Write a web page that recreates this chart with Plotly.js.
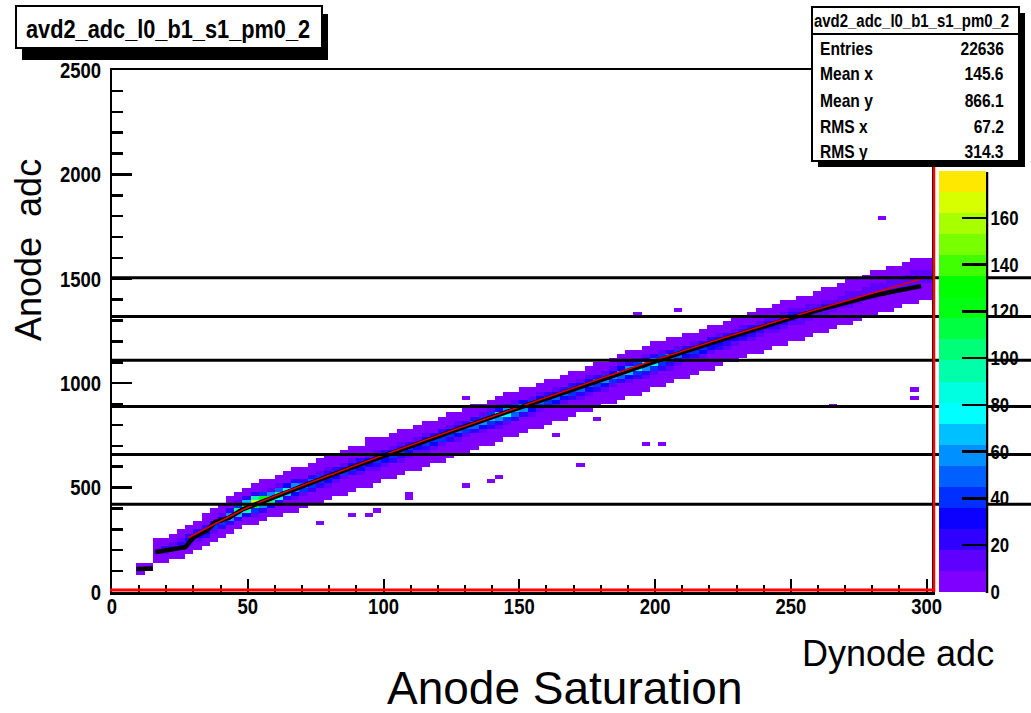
<!DOCTYPE html>
<html>
<head>
<meta charset="utf-8">
<script src="https://cdn.plot.ly/plotly-3.0.1.min.js"></script>
<style>html,body{margin:0;padding:0;background:#fff;}#chart{width:1031px;height:713px;}</style>
</head>
<body>
<div id="chart"></div>
<script>
// ---------------- data ----------------
const histTitle = "avd2_adc_l0_b1_s1_pm0_2";
const xTitle = "Dynode adc";
const yTitle = "Anode\u00a0 adc";
const mainTitle = "Anode Saturation";
const statLabels = ["Entries", "Mean x", "Mean y", "RMS x", "RMS y"];
const statValues = ["22636", "145.6", "866.1", "67.2", "314.3"];

const xBin = 3, yBin = 20;            // histogram bin widths
const xRange = [0, 302], yRange = [0, 2500];
const zMax = 180;
const cbTicks = [0, 20, 40, 60, 80, 100, 120, 140, 160];
const xTicks = [0, 50, 100, 150, 200, 250, 300];
const yTicks = [0, 500, 1000, 1500, 2000, 2500];

// band of the 2D histogram: per column: x centre, lower edge of first y bin, counts (bottom -> top)
const colX = [10.5,13.5,16.5,19.5,22.5,25.5,28.5,31.5,34.5,37.5,40.5,43.5,46.5,49.5,52.5,55.5,58.5,61.5,64.5,67.5,
  70.5,73.5,76.5,79.5,82.5,85.5,88.5,91.5,94.5,97.5,100.5,103.5,106.5,109.5,112.5,115.5,118.5,121.5,124.5,127.5,
  130.5,133.5,136.5,139.5,142.5,145.5,148.5,151.5,154.5,157.5,160.5,163.5,166.5,169.5,172.5,175.5,178.5,181.5,184.5,187.5,
  190.5,193.5,196.5,199.5,202.5,205.5,208.5,211.5,214.5,217.5,220.5,223.5,226.5,229.5,232.5,235.5,238.5,241.5,244.5,247.5,
  250.5,253.5,256.5,259.5,262.5,265.5,268.5,271.5,274.5,277.5,280.5,283.5,286.5,289.5,292.5,295.5,298.5,301.5];
const colY0 = [80,100,140,140,160,160,180,200,220,240,260,280,300,320,320,340,360,360,380,380,
  400,420,420,440,460,460,480,500,500,520,540,540,560,580,580,600,620,620,640,660,
  660,680,700,700,720,740,740,760,780,780,800,820,820,840,860,860,880,900,900,920,
  940,940,960,980,980,1000,1020,1020,1040,1060,1060,1080,1100,1100,1120,1140,1140,1160,1180,1180,
  1200,1200,1220,1240,1240,1260,1280,1280,1300,1320,1320,1340,1340,1360,1380,1380,1400,1400];
const colCounts = [
  [4,9,3],[2,3],[1,5,14,6,2,1],[1,3,16,20,7,2],[2,8,24,15,3,1],[1,3,12,26,14,4,1],[1,2,10,28,22,6,2],[1,4,14,30,18,5,2],[2,5,18,32,20,6,2,1],[1,4,16,36,28,8,3,1],
  [2,6,22,44,34,10,3,1],[1,5,20,55,60,24,6,2,1],[2,6,24,70,95,40,10,3,1],[2,8,30,90,140,70,18,4,2],[1,3,12,40,120,170,90,22,5,2],[1,4,18,60,150,130,40,8,2,1],[2,6,28,90,125,60,14,3,1],[1,3,5,22,75,100,45,10,4,2],[1,2,6,24,70,78,30,8,3,1],[1,3,3,10,30,60,55,20,5,3,1],
  [2,3,4,14,40,52,26,8,3,1],[1,3,5,18,44,46,20,6,3,2],[1,2,2,8,22,42,36,14,4,3,1],[2,3,3,10,30,40,26,9,3,2,1],[1,3,4,12,34,38,20,7,3,2],[1,2,2,6,16,36,34,16,5,3,1],[2,3,3,8,22,38,28,12,4,2,1],[1,3,4,12,30,36,20,8,3,2],[1,2,2,6,16,34,32,15,5,2,2,1],[2,3,3,9,24,38,26,10,3,3,1],
  [1,3,5,14,32,34,18,6,3,2],[1,2,2,7,18,36,30,14,4,3,1],[2,3,3,10,24,38,24,9,3,2,1],[1,3,4,13,30,36,18,6,3,2],[1,2,2,6,16,34,34,15,5,3,1],[2,3,3,9,22,40,28,10,3,2,1],[1,3,4,12,30,40,22,8,3,2],[1,2,2,6,16,36,38,18,6,3,2],[2,3,3,8,22,42,34,14,4,2,1],[1,3,4,12,30,46,26,9,3,2],
  [1,2,2,6,16,38,50,22,7,3,1],[2,3,3,8,24,52,48,18,5,3,1],[1,3,4,12,34,60,40,14,4,2],[1,2,2,6,18,44,68,36,12,3,2],[2,3,3,9,26,58,72,30,9,3,1],[1,3,4,14,36,74,56,20,6,3,1],[1,2,2,6,18,46,70,42,14,4,2],[2,3,3,8,26,56,62,28,8,3,1],[1,3,4,12,32,58,44,16,5,2],[1,2,2,6,16,38,50,30,10,3,2],
  [2,3,3,8,22,44,42,18,6,3,1],[1,3,4,11,28,46,34,12,4,2],[1,2,2,5,14,32,46,26,8,3,2],[2,3,3,7,20,40,44,18,6,3,1],[1,3,4,10,26,46,34,12,4,2],[1,2,2,5,14,32,48,28,9,3,2],[2,3,3,7,20,42,50,22,7,3,1],[1,3,4,10,28,54,42,16,5,2],[1,2,2,5,15,36,58,34,11,3,2],[2,3,3,8,22,50,64,28,9,3,1],
  [1,3,4,12,32,68,54,20,6,3,1],[1,2,2,6,18,44,76,42,14,4,2],[2,3,3,9,26,62,80,34,10,3,1],[1,3,4,13,36,78,60,22,7,3,1],[1,2,2,6,18,44,74,40,13,4,2],[2,3,3,9,26,58,62,26,8,3,1],[1,3,4,12,32,50,38,14,4,2],[1,2,2,6,16,34,42,22,7,3,2],[2,3,3,8,22,38,34,14,4,2],[1,3,4,11,28,36,22,8,3,2],
  [1,2,2,5,14,30,34,18,6,3,2],[2,3,3,7,20,34,30,12,4,2],[1,3,4,10,26,32,20,7,3,2],[1,2,2,5,13,28,30,16,5,3,2],[2,3,3,7,18,30,26,11,4,2],[1,3,4,10,22,28,18,7,3,2],[1,2,2,5,12,24,26,14,5,3,2],[2,3,3,7,16,26,22,10,3,2],[1,3,4,9,20,24,16,6,3,2],[1,2,2,5,11,20,22,12,4,3,2],
  [2,3,3,6,14,22,18,9,3,2],[1,2,2,4,9,16,20,14,6,3,2],[2,3,3,6,12,20,17,9,3,2],[1,3,4,8,15,19,12,6,3,2],[1,2,2,5,10,16,18,10,4,3,2],[2,3,3,6,13,18,15,7,3,2],[1,3,4,8,15,16,10,5,3,2],[1,2,2,5,10,15,16,9,4,3,2],[2,3,3,6,12,16,13,7,3,2],[1,3,4,8,14,15,10,5,3,2],
  [1,2,2,5,10,14,15,9,4,3,2],[2,3,3,6,11,15,12,6,3,2],[1,2,2,4,8,12,14,11,5,3,2],[2,3,3,5,10,14,13,7,3,2],[1,3,4,7,12,14,10,5,3,2],[1,2,2,5,9,13,14,9,4,3,2],[2,3,3,6,11,14,12,6,3,2],[1,2,2,5,9,13,13,8,4,3]
];
// isolated cells away from the band
const outX = [282.7,295,295,266.5,207.5,192,173,164,179.5,197.6,201,129,138.6,129,142,69,110.6,129,98,89,93,75.5,195,140,110,236,226.7];
const outY = [1791,975,935,896,1340,1336,618,747,833,718,709,929,704,666,546,599,455,503,397,378,364,330,967,536,470,1159,1125];
const outN = [2,2,2,2,2,2,3,2,2,2,2,3,2,2,2,2,2,2,2,2,2,2,2,2,2,2,2];

// fitted curve (red) and profile (black)
const fitX = [28,40,50,60,70,85,100,125,150,175,200,225,250,275,298];
const fitY = [259,340,405,460,510,583,656,772,886,1000,1111,1216,1317,1412,1499];
const profX = [9,15,null,16,21,27,30,35,38,43,48,55,62,70,80,90,100,110,120,130,140,150,160,170,180,190,200,210,220,230,240,250,260,270,280,290,298];
const profY = [110,112,null,192,200,215,262,295,335,355,395,430,470,508,556,604,652,700,746,792,838,883,927,972,1015,1058,1105,1148,1190,1232,1274,1312,1350,1385,1418,1445,1465];
// horizontal reference lines
const hLines = [420,658,888,1110,1320,1505];

// colour palette (ROOT rainbow, 20 contours)
const palette = ['#7f00ff','#5f00ff','#3000ff','#0c00ff','#0030ff','#0060ff','#0090ff','#00c0ff','#00ffff','#00ffe0',
  '#00ffa8','#00ff78','#00ff40','#00ff10','#00ff00','#40ff00','#78ff00','#a8ff00','#d8ff00','#ffe800'];

// ---------------- build grid ----------------
const nx = Math.ceil(xRange[1] / xBin) + 1, ny = Math.ceil(yRange[1] / yBin);
const xC = [], yC = [];
for (let i = 0; i < nx; i++) xC.push(i * xBin + xBin / 2);
for (let j = 0; j < ny; j++) yC.push(j * yBin + yBin / 2);
const z = [];
for (let j = 0; j < ny; j++) z.push(new Array(nx).fill(null));
colX.forEach((x, c) => {
  const i = Math.floor(x / xBin);
  colCounts[c].forEach((n, k) => {
    const j = Math.round((colY0[c] + k * yBin) / yBin);
    if (j >= 0 && j < ny) z[j][i] = (z[j][i] || 0) + n;
  });
});
outX.forEach((x, k) => {
  const i = Math.floor(x / xBin), j = Math.floor(outY[k] / yBin);
  z[j][i] = (z[j][i] || 0) + outN[k];
});
const cs = [];
palette.forEach((c, k) => { cs.push([k / palette.length, c]); cs.push([(k + 1) / palette.length, c]); });

// ---------------- geometry helpers (pixel -> paper) ----------------
const W = 1031, H = 713, L = 112, R = 932, T = 70, B = 592;
const px = v => (v - L) / (R - L);
const py = v => (B - v) / (B - T);
const rootFont = "Liberation Sans, Arial, sans-serif";

const heat = {
  type: 'heatmap', x: xC, y: yC, z: z, zmin: 0, zmax: zMax, colorscale: cs, hoverinfo: 'skip',
  colorbar: {
    thickness: 47, thicknessmode: 'pixels', len: (zMax * 2.34), lenmode: 'pixels',
    x: px(939), xanchor: 'left', xpad: 0, y: 0, yanchor: 'bottom', ypad: 0,
    outlinewidth: 0, ticks: 'inside', ticklen: 24, tickwidth: 2.5, tickcolor: '#000',
    tickvals: cbTicks, ticktext: cbTicks.map(String),
    tickfont: {family: rootFont, size: 20, color: '#000', weight: 'bold'}
  }
};
const prof = {type: 'scatter', mode: 'lines', x: profX, y: profY, line: {color: '#000', width: 4.5}, hoverinfo: 'skip', connectgaps: false};
const fit = {type: 'scatter', mode: 'lines', x: fitX, y: fitY, line: {color: '#e00000', width: 1.6, shape: 'spline'}, hoverinfo: 'skip'};

const shapes = [];
hLines.forEach(v => shapes.push({type: 'line', xref: 'paper', yref: 'paper', x0: px(110), x1: px(W + 5), y0: v / yRange[1], y1: v / yRange[1], line: {color: '#000', width: 3}}));
shapes.push({type: 'line', xref: 'paper', yref: 'paper', x0: px(110), x1: px(934), y0: py(590), y1: py(590), line: {color: '#ff0000', width: 3}});
shapes.push({type: 'line', xref: 'paper', yref: 'paper', x0: px(934), x1: px(934), y0: py(592), y1: py(70), line: {color: '#ff0000', width: 2.5}});
shapes.push({type: 'line', xref: 'paper', yref: 'paper', x0: px(987), x1: px(987), y0: py(593), y1: py(172), line: {color: '#000', width: 2.5}});
// title box with shadow
shapes.push({type: 'rect', xref: 'paper', yref: 'paper', x0: px(22), x1: px(328), y0: py(14), y1: py(60), fillcolor: '#000', line: {width: 0}});
shapes.push({type: 'rect', xref: 'paper', yref: 'paper', x0: px(16), x1: px(322), y0: py(6), y1: py(48), fillcolor: '#fff', line: {color: '#000', width: 2}});
// stats box with shadow
shapes.push({type: 'rect', xref: 'paper', yref: 'paper', x0: px(818), x1: px(1025), y0: py(13), y1: py(167), fillcolor: '#000', line: {width: 0}});
shapes.push({type: 'rect', xref: 'paper', yref: 'paper', x0: px(812), x1: px(1019), y0: py(7), y1: py(161), fillcolor: '#fff', line: {color: '#000', width: 2}});
shapes.push({type: 'line', xref: 'paper', yref: 'paper', x0: px(812), x1: px(1019), y0: py(34), y1: py(34), line: {color: '#000', width: 2}});

// annotations; the first ones use the narrow ROOT-like style (squeeze factor, alignment)
const ann = [], squeeze = [];
function rootText(text, x, y, anchor, size, f) {
  ann.push({xref: 'paper', yref: 'paper', x: px(x), y: py(y), xanchor: anchor, yanchor: 'middle', showarrow: false, text: text,
    font: {family: rootFont, size: size, color: '#000', weight: 'bold'}});
  squeeze.push([f, anchor]);
}
rootText(histTitle, 24, 29, 'left', 25, 0.87);
rootText(histTitle, 1011, 21, 'right', 18, 0.83);
const rowY = [48, 74, 100, 126, 151];
statLabels.forEach((s, k) => {
  rootText(s, 818, rowY[k], 'left', 19, 0.82);
  rootText(statValues[k], 1006, rowY[k], 'right', 19, 0.82);
});
ann.push({xref: 'paper', yref: 'paper', x: px(28), y: py(250), xanchor: 'center', yanchor: 'middle', textangle: -90, showarrow: false, text: yTitle, font: {family: 'Liberation Sans, Arial, sans-serif', size: 36, color: '#000'}});
ann.push({xref: 'paper', yref: 'paper', x: px(996), y: py(653), xanchor: 'right', yanchor: 'middle', showarrow: false, text: xTitle, font: {family: 'Liberation Sans, Arial, sans-serif', size: 36, color: '#000'}});
ann.push({xref: 'paper', yref: 'paper', x: px(565), y: py(688), xanchor: 'center', yanchor: 'middle', showarrow: false, text: mainTitle, font: {family: 'Liberation Sans, Arial, sans-serif', size: 46, color: '#000'}});

const tickFont = {family: rootFont, size: 22, color: '#000', weight: 'bold'};
const layout = {
  width: W, height: H, margin: {l: L, r: W - R, t: T, b: H - B, pad: 0, autoexpand: false},
  paper_bgcolor: '#fff', plot_bgcolor: '#fff', showlegend: false,
  xaxis: {range: xRange, showgrid: false, zeroline: false, showline: true, linecolor: '#000', linewidth: 2.5, mirror: true,
    ticks: 'inside', ticklen: 13, tickwidth: 2, tickcolor: '#000', tickvals: xTicks,
    minor: {dtick: 10, ticks: 'inside', ticklen: 7, tickwidth: 2, tickcolor: '#000', showgrid: false},
    tickfont: tickFont, ticklabelstandoff: -7},
  yaxis: {range: yRange, showgrid: false, zeroline: false, showline: true, linecolor: '#000', linewidth: 2.5, mirror: true,
    ticks: 'inside', ticklen: 20, tickwidth: 2.5, tickcolor: '#000', tickvals: yTicks,
    minor: {dtick: 100, ticks: 'inside', ticklen: 11, tickwidth: 2.5, tickcolor: '#000', showgrid: false},
    tickfont: tickFont, ticklabelstandoff: 4},
  shapes: shapes, annotations: ann
};

// condense a text element horizontally, keeping its alignment point
function narrow(el, f, align) {
  const len = el.getComputedTextLength();
  if (!len) return;
  const b0 = el.getBBox();
  el.setAttribute('textLength', (len * f).toFixed(2));
  el.setAttribute('lengthAdjust', 'spacingAndGlyphs');
  const b1 = el.getBBox();
  let dx;
  if (align === 'left') dx = b0.x - b1.x;
  else if (align === 'right') dx = (b0.x + b0.width) - (b1.x + b1.width);
  else dx = (b0.x + b0.width / 2) - (b1.x + b1.width / 2);
  if (Math.abs(dx) > 0.01) {
    const t = el.getAttribute('transform') || '';
    el.setAttribute('transform', (t + ' translate(' + dx.toFixed(2) + ',0)').trim());
  }
}

Plotly.newPlot('chart', [heat, prof, fit], layout, {staticPlot: true, displayModeBar: false}).then(gd => {
  gd.querySelectorAll('.xtick text').forEach(el => narrow(el, 0.84, 'center'));
  gd.querySelectorAll('.ytick text').forEach(el => narrow(el, 0.84, 'right'));
  gd.querySelectorAll('.colorbar text').forEach(el => narrow(el, 0.84, 'left'));
  squeeze.forEach((s, k) => {
    const el = gd.querySelector('g.annotation[data-index="' + k + '"] text');
    if (el) narrow(el, s[0], s[1]);
  });
});
</script>
</body>
</html>
